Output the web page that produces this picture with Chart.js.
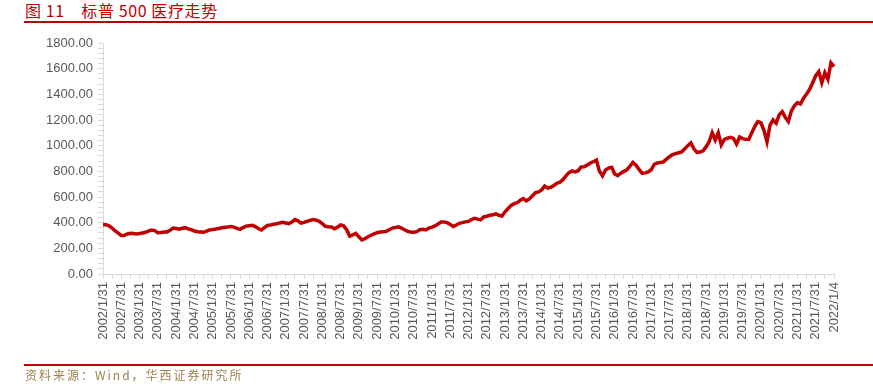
<!DOCTYPE html>
<html>
<head>
<meta charset="utf-8">
<script src="https://cdn.jsdelivr.net/npm/chart.js@4"></script>
<style>
    body { margin: 0; width: 873px; height: 386px; background: #fff; position: relative; overflow: hidden; }
    #chartBox { position: absolute; left: 0; top: 0; width: 873px; height: 386px; }
    #title { position: absolute; left: 25px; top: 2px; font-family: "Noto Sans CJK SC"; font-size: 16px; line-height: 16px; letter-spacing: 0.6px; color: #c00000; white-space: pre; }
    .rule { position: absolute; left: 24px; right: 0; height: 2px; background: #c00000; }
    #source { position: absolute; left: 25px; top: 368px; font-family: "Noto Sans CJK SC"; font-size: 12px; line-height: 14px; letter-spacing: 2px; color: #a08050; white-space: pre; }
</style>
</head>
<body>
<div id="title">图 11　标普 500 医疗走势</div>
<div class="rule" style="top:21px"></div>
<div id="chartBox"><canvas id="hcChart" width="873" height="386"></canvas></div>
<div class="rule" style="top:364px"></div>
<div id="source">资料来源：Wind，华西证券研究所</div>

<script>
// Chart data
const tickLabels = [
    '2002/1/31', '2002/7/31', '2003/1/31', '2003/7/31', '2004/1/31', '2004/7/31',
    '2005/1/31', '2005/7/31', '2006/1/31', '2006/7/31', '2007/1/31', '2007/7/31',
    '2008/1/31', '2008/7/31', '2009/1/31', '2009/7/31', '2010/1/31', '2010/7/31',
    '2011/1/31', '2011/7/31', '2012/1/31', '2012/7/31', '2013/1/31', '2013/7/31',
    '2014/1/31', '2014/7/31', '2015/1/31', '2015/7/31', '2016/1/31', '2016/7/31',
    '2017/1/31', '2017/7/31', '2018/1/31', '2018/7/31', '2019/1/31', '2019/7/31',
    '2020/1/31', '2020/7/31', '2021/1/31', '2021/7/31', '2022/1/4'
];

// monthly closes, one line per year, last value is 2022/1/4
const indexValues = [
    385, 383, 375, 358, 335, 318, 300, 302, 312, 318, 316, 312,
    315, 320, 325, 335, 342, 338, 322, 324, 327, 328, 340, 358,
    355, 350, 356, 361, 352, 345, 335, 330, 328, 325, 334, 343,
    346, 350, 355, 360, 364, 366, 370, 365, 355, 348, 362, 373,
    376, 379, 370, 355, 343, 362, 378, 382, 387, 392, 398, 403,
    398, 393, 405, 424, 415, 397, 402, 410, 418, 425, 420, 410,
    392, 372, 368, 366, 352, 365, 382, 375, 345, 295, 305, 317,
    290, 265, 275, 290, 302, 312, 322, 327, 330, 332, 345, 358,
    362, 368, 358, 345, 332, 328, 325, 330, 345, 348, 343, 358,
    365, 375, 390, 405, 406, 400, 385, 370, 382, 395, 400, 406,
    410, 425, 434, 428, 422, 445, 450, 458, 462, 468, 458, 452,
    485, 510, 535, 548, 555, 575, 588, 570, 585, 610, 635, 640,
    655, 685, 670, 676, 690, 707, 715, 735, 765, 790, 803, 795,
    805, 835, 836, 850, 865, 875, 888, 800, 765, 810, 825, 831,
    780, 766, 785, 800, 812, 840, 870, 848, 815, 784, 788, 795,
    812, 855, 865, 868, 874, 895, 914, 930, 938, 945, 952, 975,
    1000, 1022, 975, 948, 950, 960, 990, 1031, 1101, 1044, 1101, 1005,
    1049, 1058, 1065, 1057, 1013, 1068, 1055, 1049, 1048, 1100, 1150, 1187,
    1180, 1120, 1031, 1160, 1200, 1175, 1240, 1265, 1220, 1187, 1270, 1310,
    1335, 1325, 1370, 1403, 1439, 1490, 1545, 1577, 1491, 1569, 1517, 1645,
    1616
];

const axisFont = { family: 'Liberation Sans', size: 13 };
const axisGray = '#595959';
const lineGray = '#d9d9d9';

// one category per month, labelled every six months
function buildCategories() {
    const cats = [];
    for (let i = 0; i < indexValues.length; i++) {
        cats.push(i % 6 === 0 ? tickLabels[i / 6] : '');
    }
    return cats;
}

function drawChart() {
    const ctx = document.getElementById('hcChart').getContext('2d');
    new Chart(ctx, {
        type: 'line',
        data: {
            labels: buildCategories(),
            datasets: [{
                label: '标普500医疗',
                data: indexValues,
                borderColor: '#c00000',
                borderWidth: 3.5,
                pointRadius: 0,
                tension: 0
            }]
        },
        options: {
            responsive: false,
            animation: false,
            layout: { padding: { top: 43, right: 39, left: 0, bottom: 0 } },
            plugins: {
                legend: { display: false },
                tooltip: { enabled: false }
            },
            scales: {
                x: {
                    offset: false,
                    border: { color: lineGray },
                    grid: {
                        drawOnChartArea: false,
                        tickLength: 5,
                        tickColor: c => (c.index % 3 === 0 ? lineGray : 'rgba(0,0,0,0)')
                    },
                    ticks: {
                        autoSkip: false,
                        minRotation: 90,
                        maxRotation: 90,
                        padding: 3,
                        color: axisGray,
                        font: axisFont
                    },
                    afterFit: s => { s.height = 112; }
                },
                y: {
                    min: 0,
                    max: 1800,
                    border: { color: lineGray },
                    grid: { drawOnChartArea: false, tickLength: 5, tickColor: lineGray },
                    ticks: {
                        stepSize: 40,
                        autoSkip: false,
                        padding: 5,
                        color: axisGray,
                        font: axisFont,
                        callback: v => (v % 200 === 0 ? v.toFixed(2) : '')
                    },
                    afterFit: s => { s.width = 103; }
                }
            }
        }
    });
}

document.addEventListener('DOMContentLoaded', drawChart);
</script>
</body>
</html>
